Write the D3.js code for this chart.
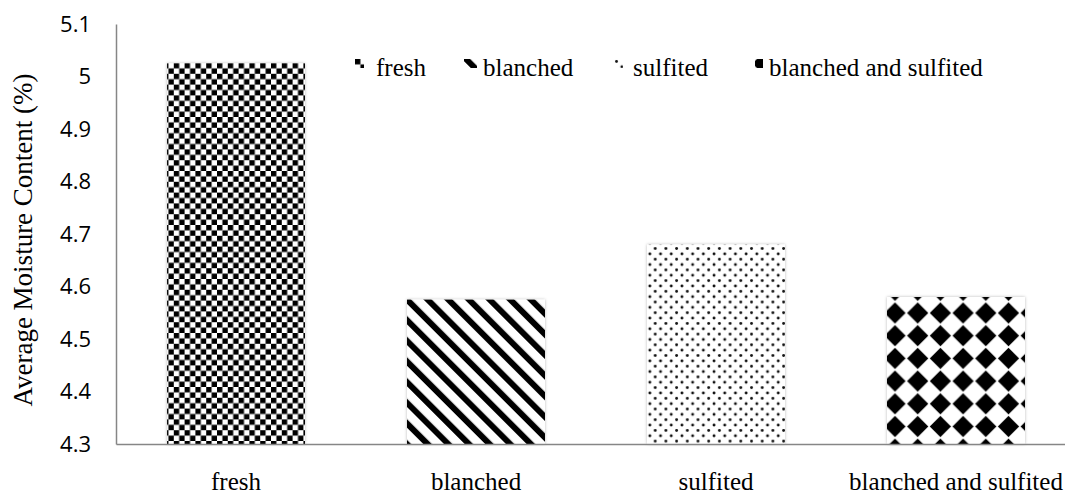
<!DOCTYPE html>
<html>
<head>
<meta charset="utf-8">
<script src="https://cdn.jsdelivr.net/npm/d3@7"></script>
<style>
  html, body { margin: 0; padding: 0; background: #fff; }
  svg { display: block; }
</style>
</head>
<body>
<svg id="chart" width="1065" height="495"></svg>
<script>
// Average moisture content by treatment
const categories = ["fresh", "blanched", "sulfited", "blanched and sulfited"];
const moisture = [5.025, 4.575, 4.68, 4.58];
const yTicks = [4.3, 4.4, 4.5, 4.6, 4.7, 4.8, 4.9, 5, 5.1];
const patternIds = ["pat-checker", "pat-stripe", "pat-dots", "pat-diamond"];

const svg = d3.select("#chart");
const plot = { left: 116, right: 1076, top: 24, bottom: 444 };

const x = d3.scaleBand().domain(categories).range([plot.left, plot.right]).paddingInner(0.425).paddingOuter(0.2125);
const y = d3.scaleLinear().domain([4.3, 5.1]).range([plot.bottom, plot.top]);

const defs = svg.append("defs");

// small checkerboard
const cs = 5.4;
const p1 = defs.append("pattern").attr("id", "pat-checker").attr("patternUnits", "userSpaceOnUse")
  .attr("width", cs * 2).attr("height", cs * 2).attr("x", 1).attr("y", 63);
p1.append("rect").attr("width", cs * 2).attr("height", cs * 2).attr("fill", "#fff");
p1.append("rect").attr("width", cs).attr("height", cs).attr("fill", "#000");
p1.append("rect").attr("x", cs).attr("y", cs).attr("width", cs).attr("height", cs).attr("fill", "#000");

// wide downward diagonal stripes
const p2 = defs.append("pattern").attr("id", "pat-stripe").attr("patternUnits", "userSpaceOnUse")
  .attr("width", 14.6).attr("height", 14.6).attr("patternTransform", "rotate(-45)");
p2.append("rect").attr("width", 14.6).attr("height", 14.6).attr("fill", "#fff");
p2.append("rect").attr("width", 6.0).attr("height", 14.6).attr("fill", "#000");

// sparse dots
const p3 = defs.append("pattern").attr("id", "pat-dots").attr("patternUnits", "userSpaceOnUse")
  .attr("width", 10.7).attr("height", 10.7);
p3.append("rect").attr("width", 10.7).attr("height", 10.7).attr("fill", "#fff");
[[2.5, 2.5], [7.85, 7.85]].forEach(([cx, cy]) =>
  p3.append("circle").attr("cx", cx).attr("cy", cy).attr("r", 1.45).attr("fill", "#111"));

// solid diamonds
const dp = 22.7, dc = dp / 2, dr = 10.6;
const p4 = defs.append("pattern").attr("id", "pat-diamond").attr("patternUnits", "userSpaceOnUse")
  .attr("width", dp).attr("height", dp).attr("x", 21.05).attr("y", 6.55);
p4.append("rect").attr("width", dp).attr("height", dp).attr("fill", "#fff");
p4.append("path").attr("fill", "#000")
  .attr("d", `M${dc},${dc - dr} L${dc + dr},${dc} L${dc},${dc + dr} L${dc - dr},${dc} Z`);

// soft edge shadow on bars
const f = defs.append("filter").attr("id", "soft").attr("x", "-10%").attr("y", "-10%").attr("width", "120%").attr("height", "120%");
f.append("feGaussianBlur").attr("in", "SourceGraphic").attr("stdDeviation", 0.45).attr("result", "fill");
f.append("feDropShadow").attr("in", "fill").attr("dx", 0).attr("dy", 0).attr("stdDeviation", 1.8)
  .attr("flood-color", "#000").attr("flood-opacity", 0.28);

// bars
svg.append("g").selectAll("rect").data(categories).join("rect")
  .attr("x", d => x(d))
  .attr("y", (d, i) => y(moisture[i]))
  .attr("width", x.bandwidth())
  .attr("height", (d, i) => y(4.3) - y(moisture[i]))
  .attr("fill", (d, i) => `url(#${patternIds[i]})`)
  .attr("filter", "url(#soft)");

// axes
const yAxis = d3.axisLeft(y).tickValues(yTicks).tickSize(0).tickPadding(25).tickFormat(d3.format("~g"));
const gy = svg.append("g").attr("transform", `translate(${plot.left},0)`).call(yAxis);
gy.select(".domain").attr("stroke", "#868686").attr("stroke-width", 1.5);
gy.selectAll("text").attr("font-family", "'Open Sans', 'Liberation Sans', sans-serif")
  .attr("font-size", 22).attr("fill", "#000");

const xAxis = d3.axisBottom(x).tickSize(0).tickPadding(28);
const gx = svg.append("g").attr("transform", `translate(0,${plot.bottom})`).call(xAxis);
gx.select(".domain").attr("stroke", "#868686").attr("stroke-width", 1.5);
gx.selectAll("text").attr("font-family", "'Liberation Serif', 'Times New Roman', serif")
  .attr("font-size", 25).attr("fill", "#000");

// y axis title
svg.append("text")
  .attr("transform", `translate(32,240) rotate(-90)`)
  .attr("text-anchor", "middle")
  .attr("font-family", "'Liberation Serif', 'Times New Roman', serif")
  .attr("font-size", 27)
  .text("Average Moisture Content (%)");

// legend: swatch position, swatch size, pattern window inside swatch, label position
const legendSwatchX = [355, 464, 614, 755];
const legendSwatchW = [9, 13, 9, 8];
const legendPatOffset = [[1, 9], [2.24, 0], [0, 0], [1.7, 13.4]];
const legendTextX = [376, 483, 633, 769];
const legendY = 59;

const legend = svg.append("g").selectAll("g").data(categories).join("g");
legend.append("g")
  .attr("transform", (d, i) => `translate(${legendSwatchX[i] - legendPatOffset[i][0]},${legendY - legendPatOffset[i][1]})`)
  .append("rect")
  .attr("x", (d, i) => legendPatOffset[i][0])
  .attr("y", (d, i) => legendPatOffset[i][1])
  .attr("width", (d, i) => legendSwatchW[i])
  .attr("height", 9)
  .attr("fill", (d, i) => `url(#${patternIds[i]})`);
legend.append("text")
  .attr("x", (d, i) => legendTextX[i])
  .attr("y", 76)
  .attr("font-family", "'Liberation Serif', 'Times New Roman', serif")
  .attr("font-size", 25).text(d => d);
</script>
</body>
</html>
